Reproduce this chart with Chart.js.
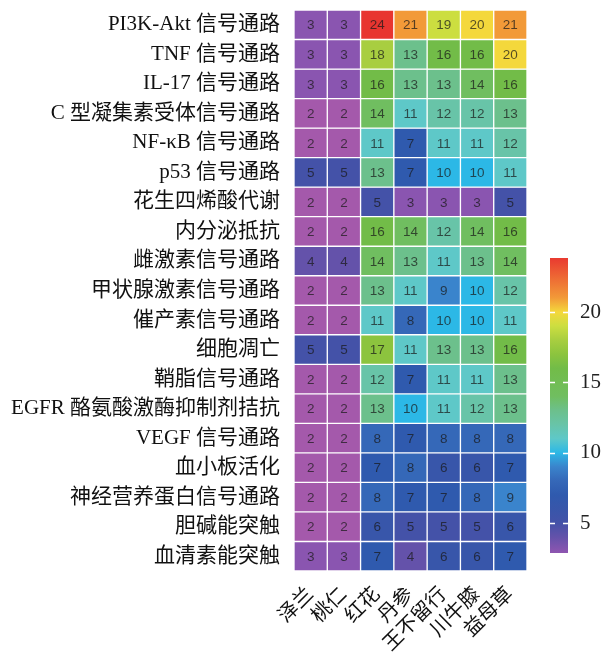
<!DOCTYPE html>
<html><head><meta charset="utf-8">
<script src="https://cdn.jsdelivr.net/npm/chart.js@4"></script>
<style>html,body{margin:0;padding:0;background:#fff;} #wrap{position:relative;width:604px;height:654px;overflow:hidden;} canvas{position:absolute;}</style>
</head><body><div id="wrap"><canvas id="main" width="604" height="654" style="left:0;top:0"></canvas><canvas id="bar" width="64" height="330" style="left:540px;top:240px"></canvas></div>
<script>
const herbs = ['泽兰', '桃仁', '红花', '丹参', '王不留行', '川牛膝', '益母草'];
const pathways = ['PI3K-Akt 信号通路', 'TNF 信号通路', 'IL-17 信号通路', 'C 型凝集素受体信号通路', 'NF-κB 信号通路', 'p53 信号通路', '花生四烯酸代谢', '内分泌抵抗', '雌激素信号通路', '甲状腺激素信号通路', '催产素信号通路', '细胞凋亡', '鞘脂信号通路', 'EGFR 酪氨酸激酶抑制剂拮抗', 'VEGF 信号通路', '血小板活化', '神经营养蛋白信号通路', '胆碱能突触', '血清素能突触'];

const zelan        = [3, 3, 3, 2, 2, 5, 2, 2, 4, 2, 2, 5, 2, 2, 2, 2, 2, 2, 3];
const taoren       = [3, 3, 3, 2, 2, 5, 2, 2, 4, 2, 2, 5, 2, 2, 2, 2, 2, 2, 3];
const honghua      = [24, 18, 16, 14, 11, 13, 5, 16, 14, 13, 11, 17, 12, 13, 8, 7, 8, 6, 7];
const danshen      = [21, 13, 13, 11, 7, 7, 3, 14, 13, 11, 8, 11, 7, 10, 7, 8, 7, 5, 4];
const wangbuliuxing= [19, 16, 13, 12, 11, 10, 3, 12, 11, 9, 10, 13, 11, 11, 8, 6, 7, 5, 6];
const chuanniuxi   = [20, 16, 14, 12, 11, 10, 3, 14, 13, 10, 10, 13, 11, 12, 8, 6, 8, 5, 6];
const yimucao      = [21, 20, 16, 13, 12, 11, 5, 16, 14, 12, 11, 16, 13, 13, 8, 7, 9, 6, 7];
const columns = [zelan, taoren, honghua, danshen, wangbuliuxing, chuanniuxi, yimucao];

const colorbarTicks = [5, 10, 15, 20];
const colorbarRange = [2.87, 23.84];

const colorStops = [
  [2, '#a459ab'], [3, '#8a55b0'], [4, '#6452aa'], [5, '#4452a8'], [6, '#3856aa'],
  [7, '#2f5aae'], [8, '#3568b8'], [9, '#3a84cc'], [10, '#2cb8e6'], [11, '#5ec8c8'],
  [12, '#68c4a8'], [13, '#6cc08c'], [14, '#70be60'], [16, '#72bc48'], [17, '#8cc43e'],
  [18, '#a8ce40'], [19, '#ccde40'], [20, '#f4d83c'], [21, '#f29a38'], [24, '#e83530']
];

function hexRgb(h) { return [parseInt(h.slice(1,3),16), parseInt(h.slice(3,5),16), parseInt(h.slice(5,7),16)]; }
function colorFor(v) {
  if (v <= colorStops[0][0]) return colorStops[0][1];
  for (let k = 1; k < colorStops.length; k++) {
    const [v1, c1] = colorStops[k];
    if (v <= v1) {
      const [v0, c0] = colorStops[k-1];
      const t = (v - v0) / (v1 - v0);
      const a = hexRgb(c0), b = hexRgb(c1);
      return 'rgb(' + a.map((x, i) => Math.round(x + (b[i] - x) * t)).join(',') + ')';
    }
  }
  return colorStops[colorStops.length-1][1];
}

const SERIF = "'Liberation Serif', 'Noto Sans CJK SC', serif";

const datasets = pathways.map((p, i) => ({
  label: p,
  data: herbs.map(() => [i, i + 1]),
  values: herbs.map((h, j) => columns[j][i]),
  backgroundColor: herbs.map((h, j) => colorFor(columns[j][i])),
  borderColor: '#ffffff',
  borderWidth: 1,
  borderSkipped: false,
  barPercentage: 1,
  categoryPercentage: 1,
  grouped: false,
  xAxisID: 'x',
  yAxisID: 'y'
}));

const cellText = {
  id: 'cellText',
  afterDatasetsDraw(chart) {
    const ctx = chart.ctx;
    ctx.save();
    ctx.font = '13.5px "Liberation Sans", Arial, sans-serif';
    ctx.fillStyle = 'rgba(25,25,25,0.72)';
    ctx.textAlign = 'center';
    ctx.textBaseline = 'middle';
    chart.data.datasets.forEach((ds, i) => {
      chart.getDatasetMeta(i).data.forEach((el, j) => {
        const pr = el.getProps(['x', 'y', 'base'], true);
        ctx.fillText(String(ds.values[j]), pr.x, (pr.y + pr.base) / 2 + 1);
      });
    });
    ctx.restore();
  }
};

new Chart(document.getElementById('main'), {
  type: 'bar',
  data: { labels: herbs, datasets },
  options: {
    responsive: false,
    animation: false,
    events: [],
    layout: { padding: { top: 10, right: 77, left: 0, bottom: 0 } },
    plugins: { legend: { display: false }, tooltip: { enabled: false } },
    scales: {
      x: {
        type: 'category',
        grid: { display: false, drawTicks: false },
        border: { display: false },
        ticks: { font: { family: SERIF, size: 20 }, color: '#111', minRotation: 45, maxRotation: 45, autoSkip: false, padding: 12 },
        afterFit: s => { s.height = 83; }
      },
      y: { type: 'linear', min: 0, max: 19, reverse: true, display: false },
      yl: {
        type: 'category',
        labels: pathways,
        position: 'left',
        offset: true,
        grid: { display: false, drawTicks: false },
        border: { display: false },
        ticks: { font: { family: SERIF, size: 21 }, color: '#111', padding: 14, autoSkip: false },
        afterFit: s => { s.width = 294; s.paddingTop = 0; s.paddingBottom = 0; }
      }
    }
  },
  plugins: [cellText]
});

const tickDashes = {
  id: 'tickDashes',
  afterDatasetsDraw(chart) {
    const { ctx, chartArea, scales } = chart;
    ctx.save();
    ctx.strokeStyle = '#ffffff';
    ctx.lineWidth = 1.5;
    colorbarTicks.forEach(v => {
      const py = Math.round(scales.y.getPixelForValue(v)) + 0.5;
      ctx.beginPath();
      ctx.moveTo(chartArea.left, py); ctx.lineTo(chartArea.left + 5, py);
      ctx.moveTo(chartArea.right - 5, py); ctx.lineTo(chartArea.right, py);
      ctx.stroke();
    });
    ctx.restore();
  }
};

new Chart(document.getElementById('bar'), {
  type: 'bar',
  data: {
    labels: [''],
    datasets: [{
      data: [colorbarRange],
      barPercentage: 1,
      categoryPercentage: 1,
      borderWidth: 0,
      backgroundColor: (context) => {
        const chart = context.chart;
        const { ctx, chartArea, scales } = chart;
        if (!chartArea) return null;
        const min = colorbarRange[0], max = colorbarRange[1];
        const g = ctx.createLinearGradient(0, scales.y.getPixelForValue(min), 0, scales.y.getPixelForValue(max));
        g.addColorStop(0, colorFor(min));
        colorStops.forEach(([v, c]) => {
          const t = (v - min) / (max - min);
          if (t > 0 && t < 1) g.addColorStop(t, c);
        });
        g.addColorStop(1, colorFor(max));
        return g;
      }
    }]
  },
  options: {
    responsive: false,
    animation: false,
    events: [],
    layout: { padding: { left: 10, top: 18, bottom: 17, right: 0 } },
    plugins: { legend: { display: false }, tooltip: { enabled: false } },
    scales: {
      x: { display: false },
      y: {
        type: 'linear',
        position: 'right',
        min: colorbarRange[0],
        max: colorbarRange[1],
        grid: { display: false, drawTicks: false },
        border: { display: false },
        afterBuildTicks: s => { s.ticks = colorbarTicks.map(v => ({ value: v })); },
        ticks: { font: { family: SERIF, size: 21 }, color: '#222', padding: 12 },
        afterFit: s => { s.width = 36; s.paddingTop = 0; s.paddingBottom = 0; }
      }
    }
  },
  plugins: [tickDashes]
});
</script>
</body></html>
